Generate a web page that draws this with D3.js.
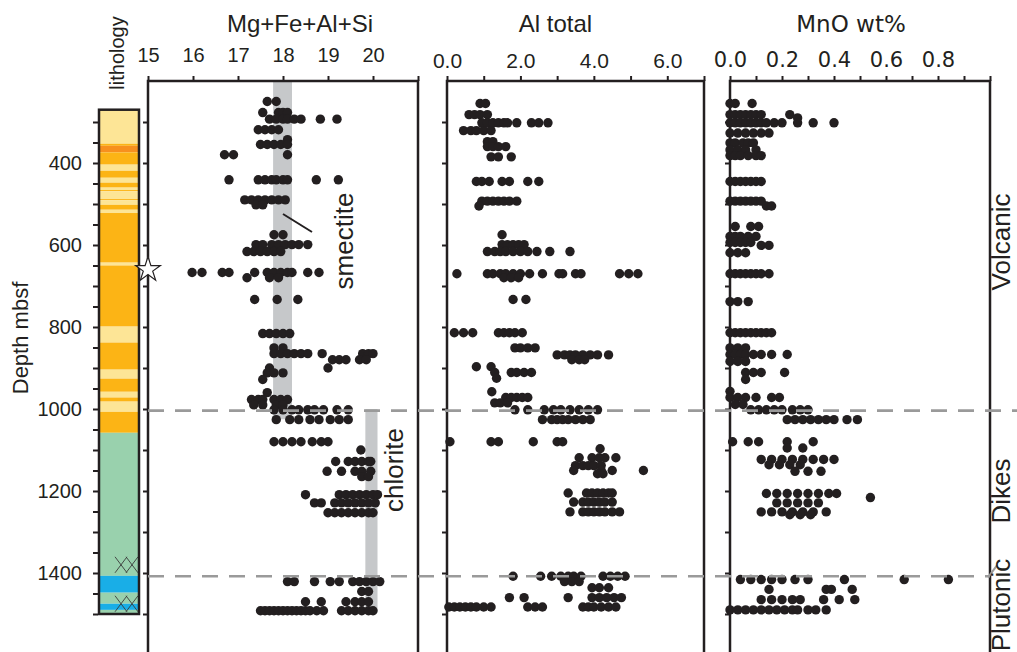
<!DOCTYPE html>
<html>
<head>
<meta charset="utf-8">
<script src="https://d3js.org/d3.v7.min.js"></script>
<style>
  body { margin: 0; background: #fff; }
  svg { display: block; }
  .axis path.domain { display: none; }
  .axis line { stroke: #231f20; stroke-width: 2; }
  .axis text { fill: #231f20; }
  .sans { font-family: "Liberation Sans", Arial, Helvetica, sans-serif; }
  .verd { font-family: "DejaVu Sans", Verdana, sans-serif; }
</style>
</head>
<body>
<svg width="1017" height="652"></svg>
<script>
// ---- data (depth in mbsf, values per row of samples) ----
var mgDepths = [250, 277, 293, 319, 343, 355, 380, 441, 490, 502, 575, 599, 616, 667, 680, 733, 816, 851, 865, 880, 900, 912, 928, 960, 977, 990, 1002, 1026, 1080, 1100, 1128, 1152, 1165, 1209, 1229, 1253, 1421, 1445, 1470, 1492];
var mgValues = [
  [17.65, 17.85],
  [17.55, 17.9, 18.0, 18.1],
  [17.7, 17.85, 18.0, 18.1, 18.25, 18.4, 18.83, 19.2],
  [17.45, 17.6, 17.75, 17.9],
  [18.1],
  [17.5, 17.65, 17.8, 17.95, 18.1],
  [16.7, 16.9, 18.1],
  [16.8, 17.45, 17.6, 17.75, 17.85, 18.0, 18.1, 18.74, 19.23],
  [17.15, 17.3, 17.45, 17.6, 17.75, 17.9, 18.05],
  [17.4, 17.55],
  [17.8, 18.0],
  [17.4, 17.55, 17.75, 17.9, 18.05, 18.2, 18.35, 18.55],
  [17.2, 17.35, 17.5, 17.65, 17.8, 17.95],
  [15.98, 16.2, 16.65, 16.8, 17.37, 17.65, 17.8, 17.95, 18.1, 18.2, 18.55, 18.8],
  [17.2, 17.7, 17.9],
  [17.37, 17.87, 18.33],
  [17.55, 17.7, 17.85, 18.0, 18.15],
  [17.8, 18.0],
  [17.8, 17.95, 18.1, 18.25, 18.4, 18.55, 18.87, 19.77, 19.9, 20.0],
  [19.1, 19.25, 19.4, 19.7, 19.85],
  [17.7, 19.0],
  [17.65, 17.8, 18.0],
  [17.55],
  [17.65],
  [17.3, 17.45, 17.55, 17.8, 17.95, 18.1],
  [17.35, 17.55, 17.85, 18.0],
  [17.8, 18.0, 18.2, 18.35, 18.55, 18.7, 18.9, 19.2, 19.45],
  [17.85, 18.15, 18.35, 18.6, 18.8, 19.05, 19.25, 19.45],
  [17.8, 18.0, 18.2, 18.4, 18.65, 18.85, 19.0],
  [19.73],
  [19.17, 19.45, 19.6, 19.75, 19.9, 19.95],
  [18.98, 19.3, 19.6, 19.75, 19.95],
  [19.75, 19.9],
  [18.5, 19.25, 19.4, 19.55, 19.7, 19.85, 20.0, 20.1],
  [18.7, 18.85, 19.15, 19.3, 19.45, 19.6, 19.75, 19.9, 20.05],
  [19.0, 19.15, 19.3, 19.45, 19.6, 19.75, 19.9, 20.0],
  [18.1, 18.25, 18.7, 19.05, 19.25, 19.55, 19.7, 19.85, 20.0, 20.15],
  [19.75, 19.9],
  [18.5, 18.85, 19.4, 19.6, 19.75, 19.9],
  [17.5, 17.6, 17.7, 17.8, 17.9, 18.0, 18.1, 18.2, 18.3, 18.4, 18.5, 18.6, 18.75, 18.9, 19.3, 19.45, 19.6, 19.75, 19.9, 20.0]
];

var alDepths = [255, 282, 302, 321, 348, 360, 385, 445, 493, 505, 575, 599, 616, 670, 680, 733, 814, 851, 868, 880, 897, 911, 925, 958, 972, 985, 1002, 1026, 1080, 1097, 1119, 1138, 1150, 1158, 1205, 1227, 1251, 1408, 1421, 1436, 1460, 1483];
var alValues = [
  [0.9, 1.05],
  [0.6, 0.75, 0.9, 1.1],
  [0.95, 1.1, 1.25, 1.4, 1.55, 1.65, 1.9, 2.3, 2.5, 2.75],
  [0.45, 0.65, 0.8, 1.0, 1.2],
  [1.1, 1.25],
  [1.1, 1.25, 1.4, 1.6],
  [1.2, 1.4, 1.75],
  [0.8, 0.95, 1.15, 1.5, 1.7, 2.2, 2.5],
  [0.95, 1.1, 1.25, 1.4, 1.55, 1.7, 1.9],
  [0.87],
  [1.5],
  [1.5, 1.65, 1.8, 1.95, 2.1],
  [1.1, 1.3, 1.45, 1.6, 1.8, 2.0, 2.2, 2.45, 2.8, 3.35],
  [0.27, 1.1, 1.25, 1.45, 1.6, 1.8, 2.0, 2.25, 2.6, 3.05, 3.15, 3.5, 3.65, 4.7, 4.95, 5.2],
  [1.55, 1.75, 1.95],
  [1.8, 2.15],
  [0.2, 0.45, 0.7, 1.4, 1.55, 1.7, 1.85, 2.05],
  [1.85, 2.0, 2.2, 2.4],
  [3.0, 3.2, 3.35, 3.5, 3.7, 3.9, 4.1, 4.4],
  [3.4, 3.6, 3.75],
  [0.8, 1.2],
  [1.3, 1.75, 1.9, 2.1, 2.3],
  [1.35],
  [1.22],
  [1.6, 1.75, 1.9, 2.05, 2.2],
  [1.3, 1.45, 1.65],
  [1.85, 2.2, 2.65, 2.9, 3.1, 3.35, 3.6, 3.85, 4.1],
  [2.6, 2.85, 3.0, 3.15, 3.3, 3.5, 3.7, 3.9],
  [0.08, 1.2, 1.4, 2.35, 3.0, 3.15],
  [4.17],
  [3.6, 3.95, 4.15, 4.3, 4.6],
  [3.5, 3.7, 3.85, 4.0, 4.2],
  [3.45, 4.2, 4.5, 5.35],
  [4.1, 4.25],
  [3.3, 3.8, 3.95, 4.1, 4.25, 4.4, 4.5],
  [3.45, 3.7, 3.85, 4.0, 4.15, 4.3, 4.5],
  [3.35, 3.7, 3.85, 4.0, 4.15, 4.3, 4.5, 4.7],
  [1.8, 2.55, 2.85, 3.1, 3.3, 3.45, 3.65, 4.25, 4.45, 4.65, 4.85],
  [3.2, 3.4, 3.6],
  [3.95, 4.15, 4.4],
  [1.7, 2.1, 3.3, 3.95, 4.15, 4.35, 4.55, 4.75],
  [0.05, 0.2, 0.35, 0.5, 0.65, 0.8, 1.0, 1.2, 2.2, 2.4, 2.6, 3.7, 3.85, 4.0, 4.2, 4.4, 4.6]
];

var mnDepths = [255, 282, 290, 302, 327, 351, 368, 382, 445, 493, 505, 555, 579, 594, 601, 619, 670, 738, 814, 851, 867, 884, 911, 928, 957, 972, 989, 1002, 1026, 1080, 1095, 1123, 1136, 1152, 1206, 1216, 1229, 1251, 1258, 1416, 1440, 1465, 1490];
var mnValues = [
  [0.0, 0.02, 0.085],
  [0.0, 0.02, 0.04, 0.06, 0.08, 0.1, 0.12, 0.23],
  [0.26],
  [0.0, 0.02, 0.04, 0.06, 0.08, 0.1, 0.12, 0.14, 0.17, 0.2, 0.26, 0.32, 0.40],
  [0.0, 0.03, 0.06, 0.09, 0.12, 0.15],
  [0.0, 0.02, 0.05, 0.07, 0.09],
  [0.0, 0.03, 0.06, 0.1],
  [0.0, 0.02, 0.04, 0.07, 0.1, 0.12],
  [0.0, 0.02, 0.04, 0.06, 0.08, 0.1, 0.12],
  [0.0, 0.02, 0.04, 0.06, 0.08, 0.1, 0.12],
  [0.14, 0.16],
  [0.02, 0.08, 0.11],
  [0.0, 0.02, 0.04, 0.07, 0.1],
  [0.0, 0.02, 0.04, 0.06, 0.08],
  [0.12, 0.15],
  [0.0, 0.03, 0.06],
  [0.0, 0.02, 0.04, 0.06, 0.08, 0.1, 0.12, 0.15],
  [0.0, 0.03, 0.07],
  [0.0, 0.02, 0.04, 0.06, 0.08, 0.1, 0.12, 0.14, 0.16],
  [0.0, 0.03, 0.06],
  [0.0, 0.02, 0.04, 0.06, 0.09, 0.12, 0.16, 0.22],
  [0.0, 0.03, 0.06],
  [0.06, 0.09, 0.12, 0.21],
  [0.06],
  [0.0],
  [0.0, 0.03, 0.06, 0.1, 0.16, 0.19],
  [0.02, 0.05],
  [0.08, 0.11, 0.14, 0.17, 0.2, 0.24, 0.27, 0.3],
  [0.22, 0.25, 0.28, 0.31, 0.34, 0.37, 0.4, 0.45, 0.49],
  [0.01, 0.07, 0.11, 0.22, 0.32],
  [0.22, 0.28],
  [0.12, 0.16, 0.2, 0.24, 0.28, 0.32, 0.36, 0.4],
  [0.15, 0.19, 0.23, 0.27],
  [0.25, 0.3, 0.35],
  [0.14, 0.18, 0.22, 0.26, 0.3, 0.34, 0.38, 0.41],
  [0.54],
  [0.18, 0.22, 0.26, 0.3, 0.34],
  [0.12, 0.16, 0.2, 0.24, 0.28, 0.32, 0.37],
  [0.23, 0.27, 0.31],
  [0.04, 0.08, 0.12, 0.16, 0.2, 0.25, 0.3, 0.44, 0.67, 0.84],
  [0.15, 0.37, 0.39, 0.47],
  [0.12, 0.16, 0.2, 0.24, 0.27, 0.36, 0.42, 0.48],
  [0.0, 0.03, 0.06, 0.09, 0.12, 0.15, 0.18, 0.21, 0.24, 0.26, 0.3, 0.33, 0.37]
];

// lithology column: [top, bottom, type]  L=light volcanic, O=volcanic, R=red, G=dikes, B=gabbro
var lithoTops    = [270, 353, 358, 374, 404, 419, 436, 448, 460, 466, 469, 488, 491, 502, 514, 522, 643, 650, 799, 838, 904, 926, 958, 972, 982, 1007, 1058, 1407, 1448, 1475, 1490];
var lithoBottoms = [353, 358, 374, 404, 419, 436, 448, 460, 466, 469, 488, 491, 502, 514, 522, 643, 650, 799, 838, 904, 926, 958, 972, 982, 1007, 1058, 1407, 1448, 1475, 1490, 1500];
var lithoTypes   = ["L", "O", "R", "O", "L", "O", "L", "O", "L", "O", "L", "O", "L", "O", "L", "O", "L", "O", "L", "O", "L", "O", "L", "O", "L", "O", "G", "B", "G", "B", "G"];
var lithoColors = { L: "#fde596", O: "#fcb415", R: "#f7901e", G: "#99d1ad", B: "#19aee7" };

var boundaryDepths = [1004, 1408];
var boundaryEnds = [1017, 990];      // lower line stops at the Plutonic label
var unitNames = ["Volcanic", "Dikes", "Plutonic"];
var unitCenters = [242, 491, 605];   // screen y of rotated labels
var starDepth = 660;

// ---- layout ----
var svg = d3.select("svg");
var y = d3.scaleLinear().domain([200, 1600]).range([81, 655]);
var x1 = d3.scaleLinear().domain([15, 21]).range([148, 418]);
var x2 = d3.scaleLinear().domain([0, 7]).range([447, 704]);
var x3 = d3.scaleLinear().domain([0, 1]).range([730, 990]);
var ink = "#231f20";

function flatten(depths, values) {
    var out = [];
    depths.forEach(function(d, i) {
        values[i].forEach(function(v) { out.push({ d: d, v: v }); });
    });
    return out;
}

// ---- lithology column ----
var litho = lithoTops.map(function(t, i) { return { top: t, bot: lithoBottoms[i], type: lithoTypes[i] }; });
var lx0 = 99, lx1 = 139;
svg.append("g").selectAll("rect").data(litho).enter().append("rect")
    .attr("x", lx0).attr("width", lx1 - lx0)
    .attr("y", function(d) { return y(d.top); })
    .attr("height", function(d) { return y(d.bot) - y(d.top); })
    .attr("fill", function(d) { return lithoColors[d.type]; });

// plutonic crosses
var crossDepths = [1380, 1475];
var cg = svg.append("g").attr("stroke", "#3a3a3a").attr("stroke-width", 0.9);
crossDepths.forEach(function(cd) {
    var cy = y(cd);
    [121, 132].forEach(function(cx) {
        cg.append("line").attr("x1", cx - 6).attr("y1", cy - 8).attr("x2", cx + 6).attr("y2", cy + 8);
        cg.append("line").attr("x1", cx - 6).attr("y1", cy + 8).attr("x2", cx + 6).attr("y2", cy - 8);
    });
});

svg.append("rect").attr("x", lx0).attr("y", y(270)).attr("width", lx1 - lx0).attr("height", y(1500) - y(270))
    .attr("fill", "none").attr("stroke", ink).attr("stroke-width", 2.5);

// depth axis
svg.append("g").attr("class", "axis sans").attr("transform", "translate(" + (lx0 - 1) + ",0)")
    .call(d3.axisLeft(y).tickValues(d3.range(300, 1501, 50)).tickSize(5).tickPadding(11)
        .tickFormat(function(d) { return (d % 200 === 0 && d >= 400 && d <= 1400) ? d : ""; }))
    .selectAll("text").attr("font-size", 20);

svg.append("text").attr("class", "sans").attr("font-size", 22).attr("fill", ink)
    .attr("transform", "translate(28,338) rotate(-90)").attr("text-anchor", "middle").text("Depth mbsf");
svg.append("text").attr("class", "sans").attr("font-size", 20).attr("fill", ink)
    .attr("transform", "translate(124,53) rotate(-90)").attr("text-anchor", "middle").text("lithology");

// ---- panels ----
var panels = [
    { x: x1, ticks: d3.range(15, 21.01, 1), fmt: function(d) { return d <= 20 ? d : ""; }, cls: "sans", fs: 20, pad: 14,
      title: "Mg+Fe+Al+Si", tfs: 24, tcls: "sans", tdx: 17, data: flatten(mgDepths, mgValues) },
    { x: x2, ticks: d3.range(0, 7.01, 1), fmt: function(d) { return d % 2 === 0 ? d.toFixed(1) : ""; }, cls: "sans", fs: 21, pad: 8,
      title: "Al total", tfs: 24, tcls: "sans", tdx: -20, data: flatten(alDepths, alValues) },
    { x: x3, ticks: d3.range(0, 10.5, 1).map(function(k) { return k / 10; }), fmt: function(d) { var k = Math.round(d * 10); return (k % 2 === 0 && k < 10) ? d.toFixed(1) : ""; },
      cls: "verd", fs: 21, pad: 9, title: "MnO wt%", tfs: 23, tcls: "verd", tdx: -9, data: flatten(mnDepths, mnValues) }
];

// gray bands in the first panel
var bands = [
    { v0: 17.78, v1: 18.2, d0: 200, d1: 1025 },
    { v0: 19.83, v1: 20.1, d0: 1000, d1: 1495 }
];
svg.append("g").selectAll("rect").data(bands).enter().append("rect")
    .attr("x", function(b) { return x1(b.v0); })
    .attr("width", function(b) { return x1(b.v1) - x1(b.v0); })
    .attr("y", function(b) { return y(b.d0); })
    .attr("height", function(b) { return y(b.d1) - y(b.d0); })
    .attr("fill", "#c6c8ca");

panels.forEach(function(p) {
    var r = p.x.range();
    // frame
    svg.append("rect").attr("x", r[0]).attr("y", y(200)).attr("width", r[1] - r[0]).attr("height", y(1600) - y(200))
        .attr("fill", "none").attr("stroke", ink).attr("stroke-width", 2.5);
    // top axis
    svg.append("g").attr("class", "axis " + p.cls).attr("transform", "translate(0," + y(200) + ")")
        .call(d3.axisTop(p.x).tickValues(p.ticks).tickSize(5).tickSizeOuter(0).tickPadding(p.pad).tickFormat(p.fmt))
        .selectAll("text").attr("font-size", p.fs);
    // left depth ticks
    svg.append("g").attr("class", "axis").attr("transform", "translate(" + r[0] + ",0)")
        .call(d3.axisLeft(y).tickValues(d3.range(300, 1601, 100)).tickSize(5).tickFormat(""));
    // title
    svg.append("text").attr("class", p.tcls).attr("font-size", p.tfs).attr("fill", ink)
        .attr("x", (r[0] + r[1]) / 2 + p.tdx).attr("y", 32).attr("text-anchor", "middle").text(p.title);
    // dots
    svg.append("g").selectAll("circle").data(p.data).enter().append("circle")
        .attr("cx", function(d) { return p.x(d.v); })
        .attr("cy", function(d) { return y(d.d); })
        .attr("r", 4.7)
        .attr("fill", ink);
});

// smectite / chlorite labels
svg.append("line").attr("x1", 283).attr("y1", 214).attr("x2", 312).attr("y2", 232)
    .attr("stroke", ink).attr("stroke-width", 2);
svg.append("text").attr("class", "sans").attr("font-size", 26).attr("fill", ink)
    .attr("transform", "translate(353,241) rotate(-90)").attr("text-anchor", "middle").text("smectite");
svg.append("text").attr("class", "sans").attr("font-size", 26).attr("fill", ink)
    .attr("transform", "translate(403,470) rotate(-90)").attr("text-anchor", "middle").text("chlorite");

// star
svg.append("path").attr("d", d3.symbol(d3.symbolStar, 190)())
    .attr("transform", "translate(" + x1(15) + "," + y(starDepth) + ")")
    .attr("fill", "#fff").attr("stroke", ink).attr("stroke-width", 1.2);

// unit boundaries
svg.append("g").selectAll("line").data(boundaryDepths).enter().append("line")
    .attr("x1", x1(15)).attr("x2", function(d, i) { return boundaryEnds[i]; })
    .attr("y1", function(d) { return y(d); }).attr("y2", function(d) { return y(d); })
    .attr("stroke", "#9a9a9a").attr("stroke-width", 2.6).attr("stroke-dasharray", "16,11");
svg.append("line").attr("x1", 988).attr("y1", y(boundaryDepths[1]) + 1).attr("x2", 997).attr("y2", y(boundaryDepths[1]) - 11)
    .attr("stroke", "#9a9a9a").attr("stroke-width", 2);

// unit names
svg.append("g").selectAll("text").data(unitNames).enter().append("text")
    .attr("class", "sans").attr("font-size", 26).attr("fill", ink).attr("text-anchor", "middle")
    .attr("transform", function(d, i) { return "translate(1010," + unitCenters[i] + ") rotate(-90)"; })
    .text(function(d) { return d; });
</script>
</body>
</html>
